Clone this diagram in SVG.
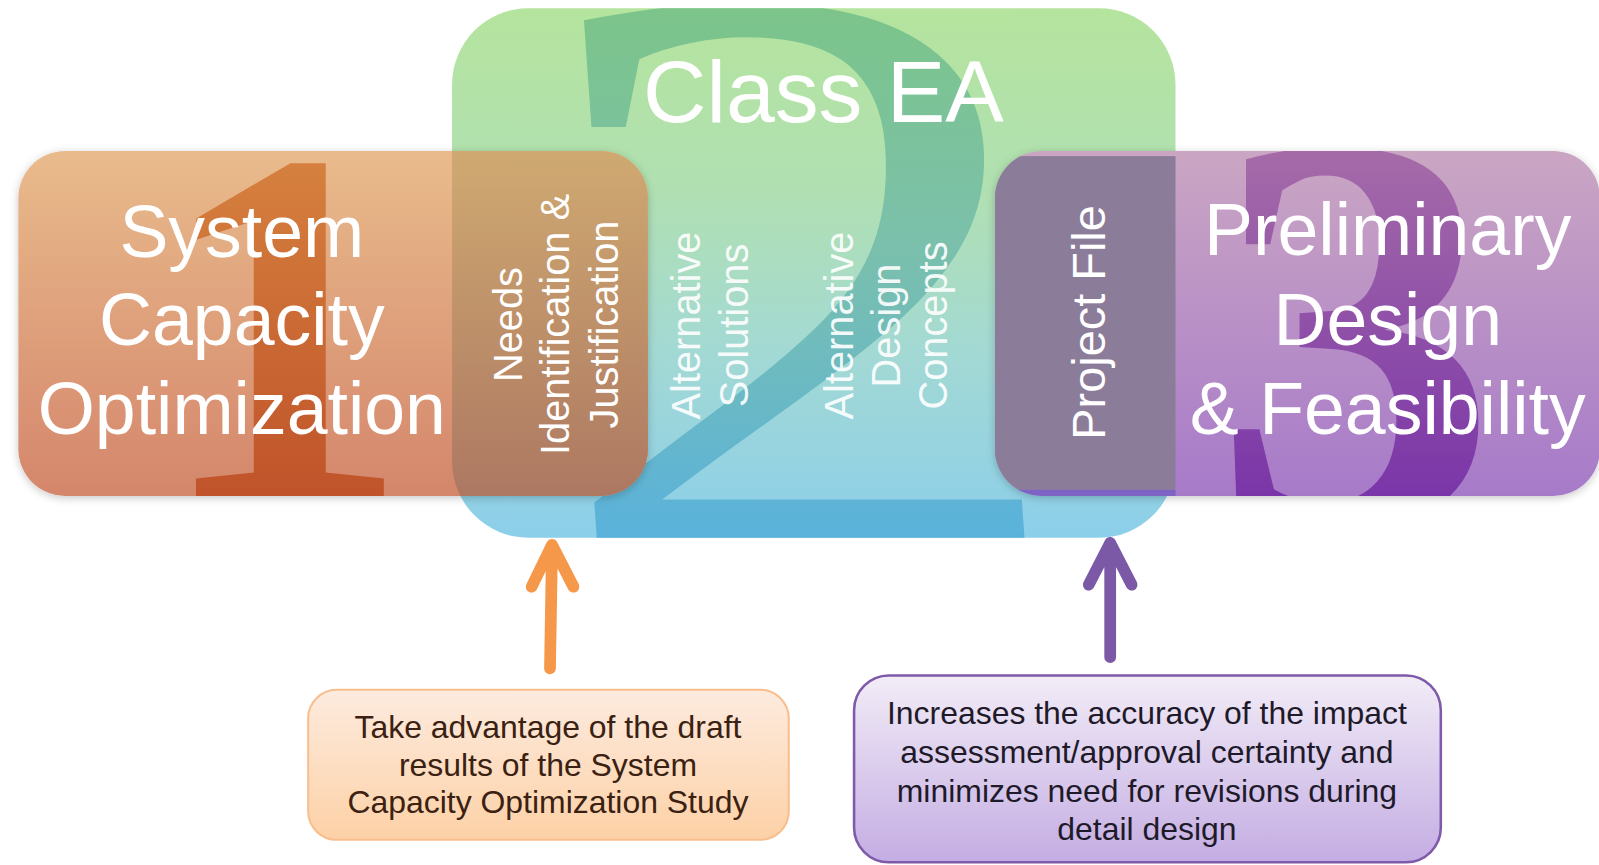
<svg xmlns="http://www.w3.org/2000/svg" width="1599" height="865" viewBox="0 0 1599 865">
<style>
.wt{font-family:"Liberation Sans",Arial,sans-serif;fill:#fff}
.big{font-size:72px;text-anchor:middle}
.vt{font-size:39px;text-anchor:middle}
.vt2{font-size:39px;text-anchor:middle;fill-opacity:0.92}
.note{font-family:"Liberation Sans",Arial,sans-serif;font-size:31.3px;text-anchor:middle}
.arrow{fill:none;stroke-width:11.5;stroke-linecap:round;stroke-linejoin:round}
.digit{font-family:"Liberation Serif","Times New Roman",serif;text-anchor:middle}
</style>
<defs>
<linearGradient id="gGreen" x1="0" y1="0" x2="0" y2="1">
<stop offset="0" stop-color="#b5e49e"/><stop offset="0.35" stop-color="#b0e0b2"/><stop offset="0.65" stop-color="#a3d9d4"/><stop offset="1" stop-color="#8ccfea"/>
</linearGradient>
<linearGradient id="g2" gradientUnits="userSpaceOnUse" x1="0" y1="-544" x2="0" y2="-25">
<stop offset="0" stop-color="#7cc48a"/><stop offset="0.45" stop-color="#7bc0ac"/><stop offset="1" stop-color="#5ab2dc"/>
</linearGradient>
<linearGradient id="gOrange" x1="0" y1="0" x2="0" y2="1">
<stop offset="0" stop-color="#e9bb8c"/><stop offset="1" stop-color="#d4866b"/>
</linearGradient>
<linearGradient id="gOver" gradientUnits="userSpaceOnUse" x1="0" y1="148" x2="0" y2="486">
<stop offset="0" stop-color="#cfa971"/><stop offset="1" stop-color="#ad7862"/>
</linearGradient>
<linearGradient id="g1" gradientUnits="userSpaceOnUse" x1="0" y1="148" x2="0" y2="486">
<stop offset="0" stop-color="#d6823f"/><stop offset="1" stop-color="#c0532a"/>
</linearGradient>
<linearGradient id="gPurple" x1="0" y1="0" x2="0" y2="1">
<stop offset="0" stop-color="#caa6c3"/><stop offset="1" stop-color="#a77ac9"/>
</linearGradient>
<linearGradient id="g3" gradientUnits="userSpaceOnUse" x1="0" y1="148" x2="0" y2="486">
<stop offset="0" stop-color="#a56ba8"/><stop offset="1" stop-color="#7a36a8"/>
</linearGradient>
<linearGradient id="gNote1" x1="0" y1="0" x2="0" y2="1">
<stop offset="0" stop-color="#fdebdf"/><stop offset="1" stop-color="#fdd1a6"/>
</linearGradient>
<linearGradient id="gNote2" x1="0" y1="0" x2="0" y2="1">
<stop offset="0" stop-color="#f2ecf7"/><stop offset="1" stop-color="#c4ade3"/>
</linearGradient>
<clipPath id="cGreen"><rect x="443" y="8" width="709" height="519" rx="75"/></clipPath>
<clipPath id="cOrange"><rect x="18" y="148" width="617" height="338" rx="46"/></clipPath>
<clipPath id="cPurple"><rect x="975" y="148" width="593" height="338" rx="46"/></clipPath>
<filter id="sh" x="-5%" y="-5%" width="110%" height="115%">
<feDropShadow dx="0" dy="2" stdDeviation="4" flood-color="#000" flood-opacity="0.22"/>
</filter>
</defs>

<g id="diagram" transform="scale(1.0204)">
<g id="node-class-ea">
<rect x="443" y="8" width="709" height="519" rx="75" fill="url(#gGreen)"/>
<g clip-path="url(#cGreen)">
<text class="digit" transform="translate(802,552) skewX(4) scale(1.26,1)" font-size="830" fill="url(#g2)">2</text>
</g>
<text class="wt" x="807" y="120" font-size="86" text-anchor="middle">Class EA</text>
</g>

<g id="node-system-capacity">
<rect x="18" y="148" width="617" height="338" rx="46" fill="url(#gOrange)" filter="url(#sh)"/>
<g clip-path="url(#cOrange)">
<text class="digit" x="277" y="490" font-size="500" font-weight="bold" fill="url(#g1)">1</text>
<g clip-path="url(#cGreen)">
<rect x="443" y="148" width="192" height="338" fill="url(#gOver)"/>
</g>
</g>
<text class="wt big" x="237" y="252">System</text>
<text class="wt big" x="237" y="338">Capacity</text>
<text class="wt big" x="237" y="425">Optimization</text>
<text class="wt vt" transform="translate(512,318) rotate(-90)">Needs</text>
<text class="wt vt" transform="translate(558,318) rotate(-90)">Identification &amp;</text>
<text class="wt vt" transform="translate(606,318) rotate(-90)">Justification</text>
</g>

<g id="node-alternatives">
<text class="wt vt2" transform="translate(686,319) rotate(-90)">Alternative</text>
<text class="wt vt2" transform="translate(733,319) rotate(-90)">Solutions</text>
<text class="wt vt2" transform="translate(836,319) rotate(-90)">Alternative</text>
<text class="wt vt2" transform="translate(882,319) rotate(-90)">Design</text>
<text class="wt vt2" transform="translate(928,319) rotate(-90)">Concepts</text>
</g>

<g id="node-preliminary-design">
<rect x="975" y="148" width="593" height="338" rx="46" fill="url(#gPurple)" filter="url(#sh)"/>
<g clip-path="url(#cPurple)">
<text class="digit" x="1328" y="515" font-size="560" font-weight="bold" fill="url(#g3)">3</text>
<rect x="975" y="153" width="177" height="327" fill="#8b7c9a"/>
<rect x="975" y="480" width="177" height="6" fill="#7e62c4"/>
</g>
<text class="wt" transform="translate(1083,316) rotate(-90)" font-size="46" text-anchor="middle">Project File</text>
<text class="wt big" x="1360" y="250">Preliminary</text>
<text class="wt big" x="1360" y="338">Design</text>
<text class="wt big" x="1360" y="425">&amp; Feasibility</text>
</g>

<g id="connectors">
<path class="arrow" stroke="#f5984a" d="M539 655 L541 534 M521 575 L541 534 L562 575"/>
<path class="arrow" stroke="#7b59a6" d="M1088 644 L1088 532 M1067 573 L1088 532 L1109 573"/>
</g>

<g id="node-note-take-advantage">
<rect x="302" y="676" width="471" height="147" rx="28" fill="url(#gNote1)" stroke="#f9be8e" stroke-width="2"/>
<text class="note" fill="#3b2112" x="537" y="723">Take advantage of the draft</text>
<text class="note" fill="#3b2112" x="537" y="760">results of the System</text>
<text class="note" fill="#3b2112" x="537" y="797">Capacity Optimization Study</text>
</g>

<g id="node-note-increases">
<rect x="837" y="662" width="575" height="183" rx="34" fill="url(#gNote2)" stroke="#7e5aa8" stroke-width="2.5"/>
<text class="note" fill="#1f1a29" x="1124" y="710">Increases the accuracy of the impact</text>
<text class="note" fill="#1f1a29" x="1124" y="748">assessment/approval certainty and</text>
<text class="note" fill="#1f1a29" x="1124" y="786">minimizes need for revisions during</text>
<text class="note" fill="#1f1a29" x="1124" y="823">detail design</text>
</g>
</g>
</svg>
